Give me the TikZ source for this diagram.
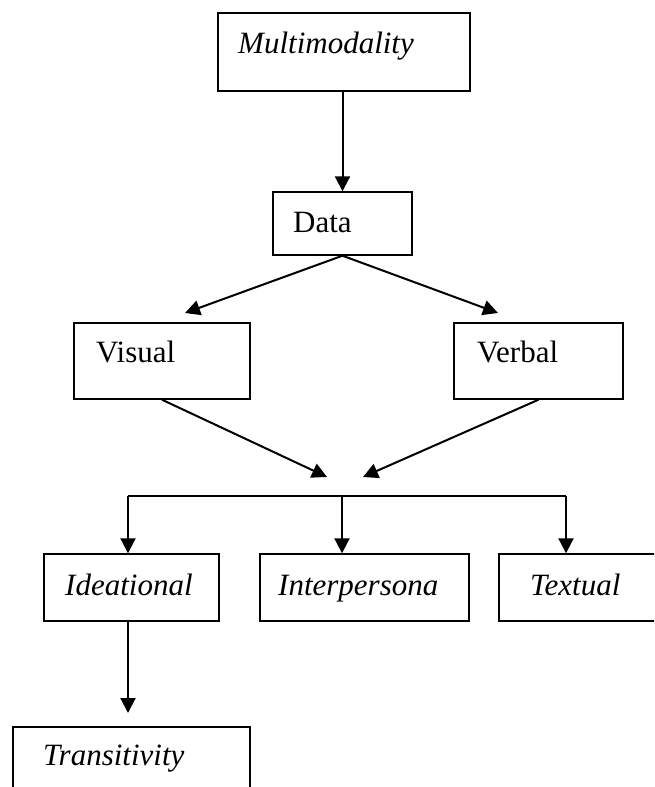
\documentclass[tikz,border=0pt]{standalone}
\usepackage{fontspec}
\setmainfont{Liberation Serif}
\usetikzlibrary{arrows.meta}

\begin{document}
\begin{tikzpicture}[x=1pt, y=-1pt,
  box/.style={draw, line width=1.4pt, inner sep=0pt},
  lbl/.style={anchor=base west, inner sep=0pt, font=\fontsize{31}{36}\selectfont},
  wire/.style={line width=2pt},
  arr/.style={wire, -{Triangle[length=15pt, width=15pt]}}]

\useasboundingbox (0,0) rectangle (654,787);
\clip (0,0) rectangle (654,787);

% boxes
\node[box, minimum width=252pt, minimum height=78pt] (multi) at (344,52) {};
\node[box, minimum width=139pt, minimum height=63pt] (data) at (342.5,223.5) {};
\node[box, minimum width=176pt, minimum height=76pt] (visual) at (162,361) {};
\node[box, minimum width=169pt, minimum height=76pt] (verbal) at (538.5,361) {};
\node[box, minimum width=175pt, minimum height=67pt] (idea) at (131.5,587.5) {};
\node[box, minimum width=209pt, minimum height=67pt] (interp) at (364.5,587.5) {};
\node[box, minimum width=221pt, minimum height=67pt] (textual) at (609.5,587.5) {};
\node[box, minimum width=237pt, minimum height=103pt] (trans) at (131.5,778.5) {};

% labels
\node[lbl] (multiT) at (238,53) {\textit{Multimodality}};
\node[lbl] (dataT) at (293,232) {Data};
\node[lbl] (visualT) at (96,362) {Visual};
\node[lbl] (verbalT) at (477,362) {Verbal};
\node[lbl] (ideaT) at (65,595) {\textit{Ideational}};
\node[lbl] (interpT) at (278,595) {\textit{Interpersona}};
\node[lbl] (textualT) at (530,595) {\textit{Textual}};
\node[lbl] (transT) at (43,765) {\textit{Transitivity}};

% free ends of the connectors
\coordinate (visTip) at (185,313);
\coordinate (verTip) at (498,313);
\coordinate (mergeL) at (327,477);
\coordinate (mergeR) at (363,477);
\coordinate (bus) at (342,496);
\coordinate (busL) at (128,496);
\coordinate (busR) at (566,496);
\coordinate (trTip) at (128,713);

% connectors
\draw[arr] (multi.south -| data.north) -- (data.north);
\draw[arr] (data.south) -- (visTip);
\draw[arr] (data.south) -- (verTip);
\draw[arr] (visual.south) -- (mergeL);
\draw[arr] (verbal.south) -- (mergeR);
\draw[wire] (busL) -- (busR);
\draw[arr] (busL) -- (busL |- idea.north);
\draw[arr] (bus) -- (bus |- interp.north);
\draw[arr] (busR) -- (busR |- textual.north);
\draw[arr] (idea.south -| trTip) -- (trTip);
\end{tikzpicture}
\end{document}
